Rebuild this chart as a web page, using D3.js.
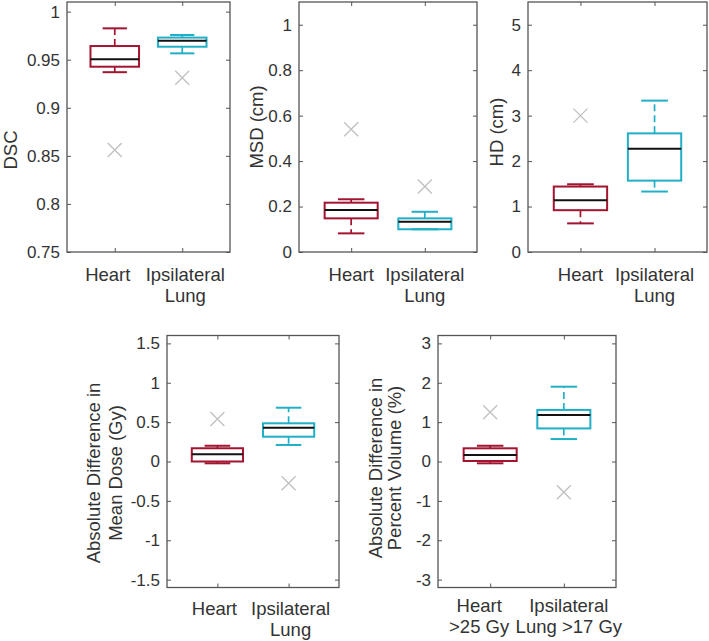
<!DOCTYPE html>
<html><head><meta charset="utf-8">
<script src="https://cdn.jsdelivr.net/npm/d3@7"></script>
<style>
body{margin:0;background:#fff;}
svg text{font-family:"Liberation Sans",Arial,sans-serif;fill:#333;}
</style></head>
<body><svg id="c" width="709" height="641"></svg>
<script>
// ---- data ----
const categories = ["Heart", "Ipsilateral Lung"];
// [lowerWhisker, Q1, median, Q3, upperWhisker]
const dscHeart = [0.937, 0.9427, 0.9504, 0.9642, 0.9826];
const dscLung  = [0.9566, 0.9635, 0.9697, 0.973, 0.9757];
const dscOutHeart = [0.856];
const dscOutLung  = [0.9313];

const msdHeart = [0.082, 0.148, 0.185, 0.217, 0.232];
const msdLung  = [0.10, 0.10, 0.133, 0.148, 0.177];
const msdOutHeart = [0.54];
const msdOutLung  = [0.288];

const hdHeart = [0.63, 0.92, 1.14, 1.44, 1.49];
const hdLung  = [1.33, 1.57, 2.27, 2.61, 3.33];
const hdOutHeart = [3.0];
const hdOutLung  = [];

const doseHeart = [-0.023, 0.0, 0.091, 0.168, 0.20];
const doseLung  = [0.21, 0.315, 0.43, 0.485, 0.683];
const doseOutHeart = [0.54];
const doseOutLung  = [-0.277];

const volHeart = [-0.046, 0.013, 0.165, 0.335, 0.40];
const volLung  = [0.57, 0.84, 1.18, 1.31, 1.90];
const volOutHeart = [1.25];
const volOutLung  = [-0.78];

const dscTicks = [0.75, 0.8, 0.85, 0.9, 0.95, 1];
const msdTicks = [0, 0.2, 0.4, 0.6, 0.8, 1];
const hdTicks  = [0, 1, 2, 3, 4, 5];
const doseTicks = [-1.5, -1, -0.5, 0, 0.5, 1, 1.5];
const volTicks  = [-3, -2, -1, 0, 1, 2, 3];

const dscDomain = [0.75, 1.01];
const msdDomain = [0, 1.1];
const hdDomain  = [0, 5.5];
const doseDomain = [-1.6, 1.6];
const volDomain  = [-3.2, 3.2];

const xLabelsStd = [["Heart"], ["Ipsilateral", "Lung"]];
const xLabelsVol = [["Heart", ">25 Gy"], ["Ipsilateral", "Lung >17 Gy"]];

// ---- layout ----
const heartColor = "#A2142F", lungColor = "#20AFC6";
const panels = [
  {x0:67, x1:230, y0:2, y1:252, domain:dscDomain, ticks:dscTicks, boxes:[dscHeart, dscLung], outs:[dscOutHeart, dscOutLung],
   ylabel:["DSC"], ylx:[10], yly:150, xl:xLabelsStd, xlOff:[-7,3], xly:281},
  {x0:299, x1:477, y0:2, y1:252, domain:msdDomain, ticks:msdTicks, boxes:[msdHeart, msdLung], outs:[msdOutHeart, msdOutLung],
   ylabel:["MSD (cm)"], ylx:[256], yly:127, xl:xLabelsStd, xlOff:[0,0], xly:281},
  {x0:528, x1:707, y0:2, y1:252, domain:hdDomain, ticks:hdTicks, boxes:[hdHeart, hdLung], outs:[hdOutHeart, hdOutLung],
   ylabel:["HD (cm)"], ylx:[496], yly:132, xl:xLabelsStd, xlOff:[0,0], xly:281},
  {x0:167, x1:339, y0:335.5, y1:587.5, domain:doseDomain, ticks:doseTicks, boxes:[doseHeart, doseLung], outs:[doseOutHeart, doseOutLung],
   ylabel:["Absolute Difference in","Mean Dose (Gy)"], ylx:[93,115], yly:473, xl:xLabelsStd, xlOff:[-3,2], xly:615},
  {x0:438, x1:616, y0:335.5, y1:587.5, domain:volDomain, ticks:volTicks, boxes:[volHeart, volLung], outs:[volOutHeart, volOutLung],
   ylabel:["Absolute Difference in","Percent Volume (%)"], ylx:[375,394], yly:468, xl:xLabelsVol, xlOff:[-11,5], xly:612}
];

const svg = d3.select("#c");
const fmt = d => String(d);

panels.forEach(p => {
  const g = svg.append("g");
  const x = d3.scaleLinear().domain([0.292, 2.708]).range([p.x0, p.x1]);
  const y = d3.scaleLinear().domain(p.domain).range([p.y1, p.y0]);
  const unit = x(1) - x(0);
  const bw = 0.72 * unit;

  const axL = d3.axisLeft(y).tickValues(p.ticks).tickSizeInner(-4).tickSizeOuter(0).tickPadding(7).tickFormat(fmt);
  const axR = d3.axisRight(y).tickValues(p.ticks).tickSizeInner(-4).tickSizeOuter(0).tickFormat("");
  const axB = d3.axisBottom(x).tickValues([1,2]).tickSizeInner(-4).tickSizeOuter(0).tickFormat("");
  const axT = d3.axisTop(x).tickValues([1,2]).tickSizeInner(-4).tickSizeOuter(0).tickFormat("");
  [[axL, `translate(${p.x0},0)`], [axR, `translate(${p.x1},0)`], [axB, `translate(0,${p.y1})`], [axT, `translate(0,${p.y0})`]]
    .forEach(([ax, tr]) => {
      const a = g.append("g").attr("transform", tr).call(ax);
      a.select(".domain").remove();
      a.selectAll(".tick line").attr("stroke", "#555").attr("stroke-width", 1);
      a.selectAll(".tick text").attr("font-size", 17).attr("fill", "#333")
        .attr("font-family", '"Liberation Sans",Arial,sans-serif');
    });
  g.append("rect").attr("x", p.x0).attr("y", p.y0).attr("width", p.x1 - p.x0).attr("height", p.y1 - p.y0)
    .attr("fill", "none").attr("stroke", "#555").attr("stroke-width", 1.3);

  p.boxes.forEach((b, i) => {
    const c = i === 0 ? heartColor : lungColor;
    const cx = x(i + 1);
    const [lw, q1, md, q3, uw] = b;
    g.append("line").attr("x1", cx).attr("x2", cx).attr("y1", y(q3)).attr("y2", y(uw))
      .attr("stroke", c).attr("stroke-width", 1.7).attr("stroke-dasharray", "7,4");
    g.append("line").attr("x1", cx).attr("x2", cx).attr("y1", y(q1)).attr("y2", y(lw))
      .attr("stroke", c).attr("stroke-width", 1.7).attr("stroke-dasharray", "7,4");
    [uw, lw].forEach(v => g.append("line").attr("x1", cx - bw / 4).attr("x2", cx + bw / 4)
      .attr("y1", y(v)).attr("y2", y(v)).attr("stroke", c).attr("stroke-width", 2));
    g.append("rect").attr("x", cx - bw / 2).attr("width", bw).attr("y", y(q3)).attr("height", Math.max(0.5, y(q1) - y(q3)))
      .attr("fill", "none").attr("stroke", c).attr("stroke-width", 2);
    g.append("line").attr("x1", cx - bw / 2).attr("x2", cx + bw / 2).attr("y1", y(md)).attr("y2", y(md))
      .attr("stroke", "#111").attr("stroke-width", 2);
    p.outs[i].forEach(v => {
      const s = 7, oy = y(v);
      g.append("path").attr("d", `M${cx - s},${oy - s}L${cx + s},${oy + s}M${cx - s},${oy + s}L${cx + s},${oy - s}`)
        .attr("stroke", "#c0c0c0").attr("stroke-width", 1.3).attr("fill", "none");
    });
    p.xl[i].forEach((t, k) => {
      g.append("text").attr("x", cx + p.xlOff[i]).attr("y", p.xly + k * 21).attr("text-anchor", "middle")
        .attr("font-size", 18.5).text(t);
    });
  });

  p.ylabel.forEach((t, k) => {
    g.append("text").attr("transform", `translate(${p.ylx[k]},${p.yly}) rotate(-90)`)
      .attr("text-anchor", "middle").attr("dominant-baseline", "central").attr("font-size", 18.5).text(t);
  });
});
</script></body></html>
